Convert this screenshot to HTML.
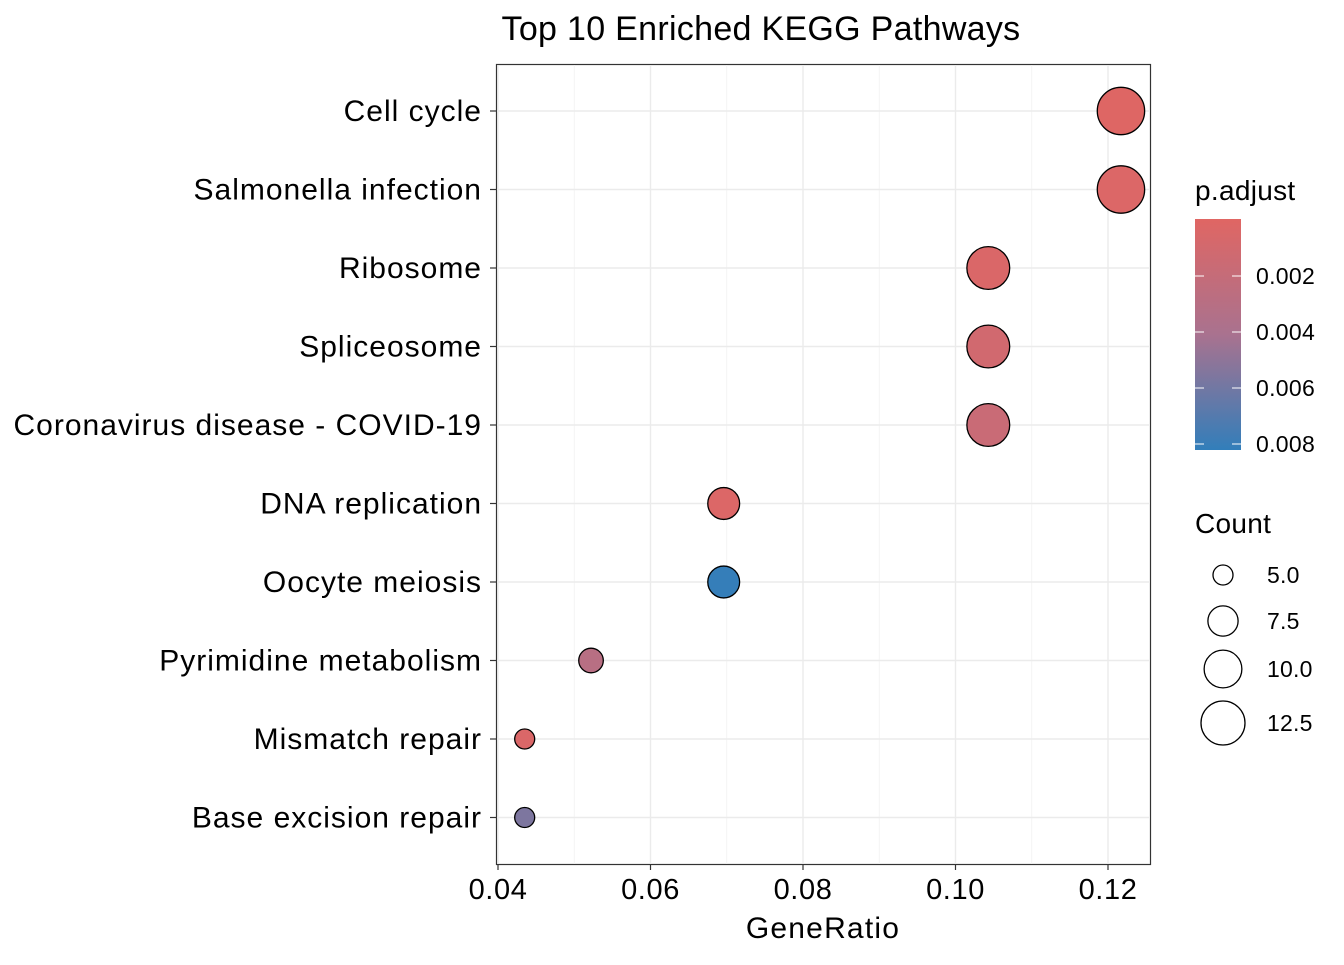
<!DOCTYPE html>
<html><head><meta charset="utf-8"><style>
body{margin:0;background:#fff;font-family:"Liberation Sans",sans-serif}
</style></head><body>
<svg id="chart" width="1344" height="960" xmlns="http://www.w3.org/2000/svg" font-family="Liberation Sans, sans-serif">
<defs><linearGradient id="grad" x1="0" y1="0" x2="0" y2="1">
<stop offset="0" stop-color="#e06663"/><stop offset="0.5" stop-color="#a9728f"/><stop offset="1" stop-color="#327eba"/>
</linearGradient></defs>
<text x="761" y="40" font-size="34" letter-spacing="0.3" text-anchor="middle" fill="#000">Top 10 Enriched KEGG Pathways</text>
<rect x="496.5" y="64.5" width="654" height="800" fill="#fff" stroke="#333" stroke-width="1.2"/>
<g id="grid"></g><g id="points"></g><g id="axes"></g>
<text x="823" y="938" font-size="30" letter-spacing="1.2" text-anchor="middle">GeneRatio</text>
<text x="1195" y="200" font-size="28" letter-spacing="0.3">p.adjust</text>
<rect x="1195" y="219" width="46" height="231" fill="url(#grad)"/>
<g id="cticks"></g>
<text x="1195" y="533" font-size="28" letter-spacing="0.3">Count</text>
<g id="sizeleg"></g>
</svg>
<script>
const categories=["Cell cycle","Salmonella infection","Ribosome","Spliceosome","Coronavirus disease - COVID-19","DNA replication","Oocyte meiosis","Pyrimidine metabolism","Mismatch repair","Base excision repair"];
const geneRatio=[0.1217,0.1217,0.1043,0.1043,0.1043,0.0696,0.0696,0.0522,0.0435,0.0435];
const counts=[14,14,12,12,12,8,8,6,5,5];
const padjust=[0.0001,0.0003,0.0004,0.0011,0.0017,0.0003,0.0081,0.003,0.0004,0.0056];
const xTicks=[0.04,0.06,0.08,0.10,0.12];
const xTickLabels=["0.04","0.06","0.08","0.10","0.12"];
const cTicks=[0.002,0.004,0.006,0.008];
const cTickLabels=["0.002","0.004","0.006","0.008"];
const sizeBreaks=[5,7.5,10,12.5];
const sizeLabels=["5.0","7.5","10.0","12.5"];
const NS="http://www.w3.org/2000/svg";
const xs=v=>498+(v-0.04)*7625;
const ys=i=>111+i*78.5;
const rs=c=>Math.sqrt(Math.max(4,-156+51.2*c));
const cs=p=>220+p*28000;
function col(p){let t=Math.min(1,Math.max(0,(cs(p)-219)/231));
 const a=[224,102,99],m=[169,114,143],b=[50,126,186];let c;
 if(t<0.5){const u=t*2;c=a.map((v,k)=>v+(m[k]-v)*u);}else{const u=(t-0.5)*2;c=m.map((v,k)=>v+(b[k]-v)*u);}
 return `rgb(${c.map(Math.round).join(",")})`;}
function mk(tag,at,parent,txt){const e=document.createElementNS(NS,tag);for(const k in at)e.setAttribute(k,at[k]);if(txt!==undefined)e.textContent=txt;document.getElementById(parent).appendChild(e);return e;}
for(let i=0;i<xTicks.length;i++){
 const g=mk("line",{x1:xs(xTicks[i]),x2:xs(xTicks[i]),y1:65,y2:864,stroke:"#ebebeb","stroke-width":1.4},"grid");
 
 
 if(i<xTicks.length-1){const mv=(xTicks[i]+xTicks[i+1])/2;
 const g2=mk("line",{x1:xs(mv),x2:xs(mv),y1:65,y2:864,stroke:"#f2f2f2","stroke-width":0.8},"grid");
 
 }
 const t=mk("line",{x1:xs(xTicks[i]),x2:xs(xTicks[i]),y1:864,y2:870,stroke:"#333","stroke-width":1.2},"axes");
 
 
 const l=mk("text",{x:xs(xTicks[i]),y:899,"font-size":29,"letter-spacing":0.6,"text-anchor":"middle"},"axes",xTickLabels[i]);
 
 
}
categories.forEach((c,i)=>{
 const g=mk("line",{x1:497,x2:1150,y1:ys(i),y2:ys(i),stroke:"#ebebeb","stroke-width":1.4},"grid");
 
 
 const t=mk("line",{x1:490,x2:496,y1:ys(i),y2:ys(i),stroke:"#333","stroke-width":1.2},"axes");
 
 
 const l=mk("text",{x:482,y:ys(i)+10,"font-size":30,"letter-spacing":1,"text-anchor":"end"},"axes",c);
 
 
 const p=mk("circle",{cx:xs(geneRatio[i]),cy:ys(i),r:rs(counts[i]),fill:col(padjust[i]),stroke:"#000","stroke-width":1.3},"points");
 
 
});
cTicks.forEach((v,i)=>{
 const y=cs(v);
 const a=mk("line",{x1:1195,x2:1204,y1:y,y2:y,stroke:"#fff","stroke-width":1},"cticks");
 
 
 const b=mk("line",{x1:1232,x2:1241,y1:y,y2:y,stroke:"#fff","stroke-width":1},"cticks");
 
 
 const l=mk("text",{x:1256,y:y+8,"font-size":23,"letter-spacing":0.3},"cticks",cTickLabels[i]);
 
 
});
const sy=[575,621,669,723];
sizeBreaks.forEach((v,i)=>{
 const c=mk("circle",{cx:1223,cy:sy[i],r:rs(v),fill:"none",stroke:"#000","stroke-width":1.3},"sizeleg");
 
 
 const l=mk("text",{x:1267,y:sy[i]+8,"font-size":23,"letter-spacing":0.2},"sizeleg",sizeLabels[i]);
 
 
});
</script>
</body></html>
